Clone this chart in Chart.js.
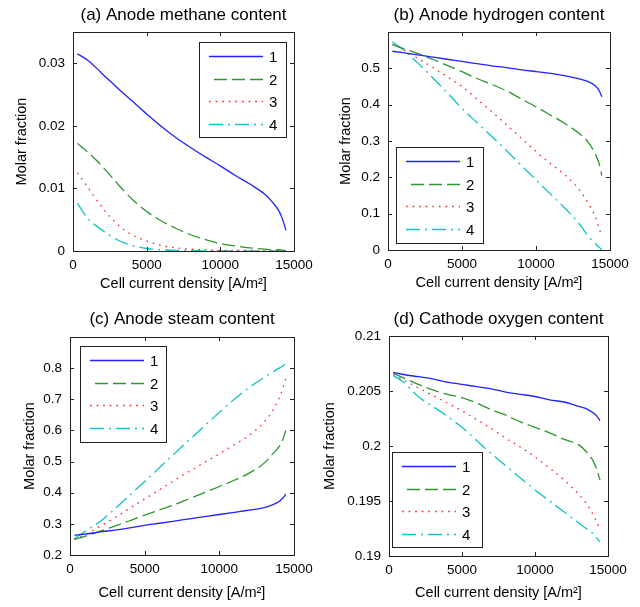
<!DOCTYPE html>
<html>
<head>
<meta charset="utf-8">
<script src="https://cdn.jsdelivr.net/npm/chart.js@4/dist/chart.umd.min.js"></script>
<style>
body { margin: 0; background: #fff; }
#wrap { position: relative; width: 640px; height: 607px; }
canvas { position: absolute; }
</style>
</head>
<body>
<div id="wrap">
  <canvas id="ca" width="320" height="300" style="left:0;top:0"></canvas>
  <canvas id="cb" width="320" height="300" style="left:320px;top:0"></canvas>
  <canvas id="cc" width="320" height="307" style="left:0;top:300px"></canvas>
  <canvas id="cd" width="320" height="307" style="left:320px;top:300px"></canvas>
</div>
<script>
// current density [A/m2]
const current = [300, 1000, 2000, 3000, 4000, 5000, 6000, 7000, 8000, 9000, 10000, 11000, 12000, 13000, 13500, 14000, 14250, 14450];
const seriesNames = ['1', '2', '3', '4'];
const xTicks = [0, 5000, 10000, 15000];

// (a) anode methane
const methane1 = [0.0315, 0.0305, 0.0283, 0.0261, 0.0240, 0.0219, 0.0199, 0.0181, 0.0165, 0.0150, 0.0136, 0.0121, 0.0107, 0.0091, 0.0079, 0.0063, 0.0049, 0.0033];
const methane2 = [0.0172, 0.0158, 0.0135, 0.0108, 0.0083, 0.0063, 0.0048, 0.0036, 0.0026, 0.0018, 0.0012, 0.0008, 0.0005, 0.0003, 0.0002, 0.0002, 0.0001, 0.0001];
const methane3 = [0.0125, 0.0102, 0.0069, 0.0043, 0.0026, 0.0016, 0.0009, 0.0005, 0.0003, 0.0002, 0.0001, 0.0001, 0.0001, 0.0000, 0.0000, 0.0000, 0.0000, 0.0000];
const methane4 = [0.0076, 0.0052, 0.0033, 0.0018, 0.0009, 0.0004, 0.0002, 0.0001, 0.0001, 0.0000, 0.0000, 0.0000, 0.0000, 0.0000, 0.0000, 0.0000, 0.0000, 0.0000];
const methaneTicks = [0, 0.01, 0.02, 0.03];

// (b) anode hydrogen
const hydrogen1 = [0.547, 0.543, 0.537, 0.531, 0.525, 0.519, 0.513, 0.507, 0.502, 0.496, 0.491, 0.486, 0.479, 0.470, 0.464, 0.452, 0.440, 0.422];
const hydrogen2 = [0.565, 0.555, 0.541, 0.525, 0.508, 0.491, 0.472, 0.456, 0.438, 0.416, 0.394, 0.371, 0.347, 0.318, 0.298, 0.265, 0.240, 0.205];
const hydrogen3 = [0.567, 0.552, 0.528, 0.503, 0.477, 0.450, 0.416, 0.381, 0.345, 0.308, 0.271, 0.237, 0.205, 0.162, 0.131, 0.092, 0.060, 0.040];
const hydrogen4 = [0.573, 0.552, 0.515, 0.475, 0.433, 0.390, 0.351, 0.313, 0.274, 0.233, 0.193, 0.153, 0.113, 0.068, 0.040, 0.018, 0.008, 0.001];
const hydrogenTicks = [0, 0.1, 0.2, 0.3, 0.4, 0.5, 0.6];

// (c) anode steam
const steam1 = [0.263, 0.267, 0.274, 0.280, 0.287, 0.295, 0.302, 0.309, 0.316, 0.323, 0.330, 0.337, 0.344, 0.352, 0.360, 0.372, 0.383, 0.395];
const steam2 = [0.250, 0.260, 0.276, 0.293, 0.310, 0.328, 0.345, 0.362, 0.381, 0.400, 0.420, 0.440, 0.463, 0.495, 0.521, 0.548, 0.570, 0.600];
const steam3 = [0.250, 0.265, 0.292, 0.320, 0.350, 0.380, 0.410, 0.440, 0.469, 0.497, 0.525, 0.554, 0.584, 0.627, 0.658, 0.703, 0.735, 0.768];
const steam4 = [0.253, 0.275, 0.307, 0.348, 0.392, 0.436, 0.481, 0.526, 0.570, 0.614, 0.658, 0.700, 0.738, 0.770, 0.786, 0.800, 0.807, 0.814];
const steamTicks = [0.2, 0.3, 0.4, 0.5, 0.6, 0.7, 0.8, 0.9];

// (d) cathode oxygen
const oxygen1 = [0.2067, 0.2065, 0.2063, 0.2061, 0.2058, 0.2056, 0.2054, 0.2052, 0.2049, 0.2047, 0.2045, 0.2042, 0.2040, 0.2036, 0.2034, 0.2030, 0.2027, 0.2023];
const oxygen2 = [0.2066, 0.2062, 0.2056, 0.2051, 0.2047, 0.2044, 0.2039, 0.2033, 0.2028, 0.2022, 0.2017, 0.2012, 0.2006, 0.2001, 0.1995, 0.1986, 0.1978, 0.1969];
const oxygen3 = [0.2065, 0.2060, 0.2053, 0.2046, 0.2039, 0.2032, 0.2024, 0.2016, 0.2007, 0.1999, 0.1990, 0.1980, 0.1969, 0.1956, 0.1948, 0.1937, 0.1930, 0.1925];
const oxygen4 = [0.2064, 0.2058, 0.2045, 0.2036, 0.2027, 0.2017, 0.2005, 0.1993, 0.1982, 0.1971, 0.1960, 0.1950, 0.1940, 0.1930, 0.1925, 0.1920, 0.1916, 0.1913];
const oxygenTicks = [0.19, 0.195, 0.2, 0.205, 0.21];

const lineColors = ['#2222ff', '#2e962e', '#ff2222', '#11c4c4'];
const lineDashes = [[], [13, 5], [1.6, 5], [14, 5, 2, 5]];
const FONT = '"Liberation Sans", Arial, Helvetica, sans-serif';

// box, inward ticks, title and legend in matlab style
const matlabBox = {
  id: 'matlabBox',
  afterDraw(chart, args, opts) {
    const ctx = chart.ctx;
    const a = chart.chartArea;
    const xs = chart.scales.x, ys = chart.scales.y;
    const tl = 4;
    ctx.save();
    ctx.setLineDash([]);
    ctx.strokeStyle = '#222';
    ctx.lineWidth = 1;
    ctx.beginPath();
    xs.ticks.forEach(t => {
      const px = Math.round(xs.getPixelForValue(t.value)) + 0.5;
      ctx.moveTo(px, a.bottom); ctx.lineTo(px, a.bottom - tl);
      ctx.moveTo(px, a.top); ctx.lineTo(px, a.top + tl);
    });
    ys.ticks.forEach(t => {
      const py = Math.round(ys.getPixelForValue(t.value)) + 0.5;
      ctx.moveTo(a.left, py); ctx.lineTo(a.left + tl, py);
      ctx.moveTo(a.right, py); ctx.lineTo(a.right - tl, py);
    });
    ctx.stroke();
    ctx.strokeRect(Math.round(a.left) + 0.5, Math.round(a.top) + 0.5,
      Math.round(a.right - a.left), Math.round(a.bottom - a.top));

    // title
    ctx.fillStyle = '#000';
    ctx.font = '17px ' + FONT;
    ctx.textAlign = 'center';
    ctx.textBaseline = 'alphabetic';
    ctx.fillText(opts.title, (a.left + a.right) / 2, opts.titleY);

    // legend
    const L = opts.legend;
    ctx.fillStyle = '#fff';
    ctx.fillRect(L.l, L.t, L.w, L.h);
    ctx.strokeStyle = '#222';
    ctx.strokeRect(L.l + 0.5, L.t + 0.5, L.w, L.h);
    ctx.font = '15px ' + FONT;
    ctx.textAlign = 'left';
    ctx.textBaseline = 'middle';
    seriesNames.forEach((name, i) => {
      const y = Math.round(L.t + 14 + i * 22.5) + 0.5;
      ctx.lineWidth = 1.3;
      ctx.strokeStyle = lineColors[i];
      ctx.setLineDash(lineDashes[i]);
      ctx.beginPath();
      ctx.moveTo(L.l + (i === 1 ? 15 : 10), y);
      ctx.lineTo(L.l + 64, y);
      ctx.stroke();
      ctx.setLineDash([]);
      ctx.fillStyle = '#000';
      ctx.fillText(name, L.l + 70, y + 1);
    });
    ctx.restore();
  }
};

function makePanel(id, title, series, yMin, yMax, yTicks, geo) {
  const H = document.getElementById(id).height;
  const W = document.getElementById(id).width;
  new Chart(document.getElementById(id), {
    type: 'line',
    data: {
      datasets: series.map((s, i) => ({
        label: seriesNames[i],
        data: current.map((x, k) => ({ x: x, y: s[k] })),
        borderColor: lineColors[i],
        borderDash: lineDashes[i],
        borderWidth: 1.3,
        pointRadius: 0,
        cubicInterpolationMode: 'monotone',
        fill: false
      }))
    },
    options: {
      responsive: false,
      animation: false,
      devicePixelRatio: 1,
      layout: { padding: { top: geo.box.t, right: W - geo.box.r, left: 0, bottom: 0 } },
      plugins: {
        legend: { display: false },
        tooltip: { enabled: false },
        matlabBox: { title: title, titleY: geo.titleY, legend: geo.legend }
      },
      scales: {
        x: {
          type: 'linear',
          min: 0, max: 15000,
          afterBuildTicks: sc => { sc.ticks = xTicks.map(v => ({ value: v })); },
          afterFit: sc => { sc.height = H - geo.box.b; },
          grid: { display: false, drawTicks: false },
          border: { display: false },
          ticks: { color: '#000', padding: 6, maxRotation: 0, font: { family: FONT, size: 13.5 }, callback: v => String(v) },
          title: {
            display: true, text: 'Cell current density [A/m²]', color: '#000',
            font: { family: FONT, size: 14.5 }, padding: { top: 0, bottom: H - geo.xTitleY - 8.7 }
          }
        },
        y: {
          type: 'linear',
          min: yMin, max: yMax,
          afterBuildTicks: sc => { sc.ticks = yTicks.map(v => ({ value: v })); },
          afterFit: sc => { sc.width = geo.box.l; },
          grid: { display: false, drawTicks: false },
          border: { display: false },
          ticks: {
            color: '#000', padding: 8, font: { family: FONT, size: 13.5 },
            callback: v => (geo.hideTop && Math.abs(v - yMax) < 1e-9) ? '' : String(v)
          },
          title: {
            display: true, text: 'Molar fraction', color: '#000',
            font: { family: FONT, size: 14.5 }, padding: { top: geo.yTitleX - 8.7, bottom: 0 }
          }
        }
      }
    },
    plugins: [matlabBox]
  });
}

makePanel('ca', '(a) Anode methane content', [methane1, methane2, methane3, methane4], 0, 0.035, methaneTicks,
  { box: { l: 73, t: 32, r: 294, b: 251 }, legend: { l: 199, t: 42, w: 87, h: 95 }, titleY: 20, yTitleX: 21.5, xTitleY: 284, hideTop: false });
makePanel('cb', '(b) Anode hydrogen content', [hydrogen1, hydrogen2, hydrogen3, hydrogen4], 0, 0.6, hydrogenTicks,
  { box: { l: 68, t: 32, r: 290, b: 250 }, legend: { l: 76, t: 147, w: 87, h: 96 }, titleY: 20, yTitleX: 26, xTitleY: 283, hideTop: true });
makePanel('cc', '(c) Anode steam content', [steam1, steam2, steam3, steam4], 0.2, 0.9, steamTicks,
  { box: { l: 70, t: 37, r: 294, b: 255 }, legend: { l: 80, t: 46, w: 86, h: 96 }, titleY: 23.5, yTitleX: 30, xTitleY: 293, hideTop: true });
makePanel('cd', '(d) Cathode oxygen content', [oxygen1, oxygen2, oxygen3, oxygen4], 0.19, 0.21, oxygenTicks,
  { box: { l: 69, t: 36, r: 288, b: 256 }, legend: { l: 72, t: 152, w: 90, h: 95 }, titleY: 23.5, yTitleX: 9.5, xTitleY: 293, hideTop: false });
</script>
</body>
</html>
